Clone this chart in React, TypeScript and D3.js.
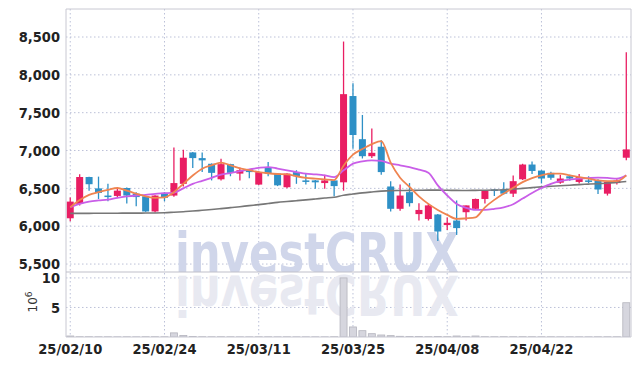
import React from 'react';
import * as d3 from 'd3';

const W = 639;
const H = 366;

const opens = [6105, 6295, 6650, 6500, 6405, 6400, 6505, 6430, 6395, 6195, 6440, 6405, 6560, 6975, 6900, 6825, 6620, 6820, 6695, 6750, 6550, 6780, 6695, 6515, 6715, 6605, 6605, 6570, 6605, 6580, 7720, 7150, 6925, 7050, 6525, 6230, 6450, 6160, 6095, 6155, 6015, 6075, 6185, 6230, 6360, 6485, 6485, 6430, 6620, 6815, 6735, 6705, 6575, 6660, 6585, 6605, 6605, 6430, 6570, 6905];
const highs = [6380, 6685, 6655, 6655, 6560, 6500, 6510, 6450, 6400, 6410, 6450, 7040, 7010, 6980, 6975, 6830, 6890, 6825, 6775, 6755, 6725, 6850, 6700, 6700, 6740, 6700, 6610, 6680, 6610, 8440, 7890, 7470, 7290, 7135, 6595, 6550, 6570, 6305, 6300, 6160, 6115, 6340, 6275, 6365, 6475, 6490, 6580, 6670, 6825, 6855, 6740, 6720, 6680, 6680, 6690, 6660, 6620, 6590, 6620, 8300];
const lows = [6065, 6275, 6470, 6360, 6330, 6385, 6300, 6265, 6190, 6180, 6330, 6390, 6525, 6770, 6715, 6605, 6605, 6660, 6605, 6635, 6545, 6660, 6530, 6500, 6560, 6550, 6495, 6495, 6395, 6470, 7025, 6895, 6900, 6680, 6195, 6205, 6260, 6075, 6075, 5805, 5950, 5885, 6075, 6220, 6300, 6400, 6420, 6385, 6610, 6690, 6565, 6615, 6560, 6600, 6565, 6570, 6425, 6405, 6550, 6870];
const closes = [6325, 6650, 6555, 6440, 6385, 6470, 6405, 6385, 6195, 6405, 6375, 6570, 6905, 6900, 6870, 6705, 6820, 6705, 6740, 6715, 6715, 6695, 6540, 6695, 6660, 6590, 6580, 6605, 6530, 7745, 7205, 6925, 6970, 6715, 6230, 6405, 6305, 6215, 6275, 5930, 6045, 5975, 6275, 6360, 6470, 6465, 6430, 6595, 6815, 6730, 6630, 6640, 6630, 6630, 6650, 6595, 6485, 6585, 6605, 7015];
const volumes = [0.17, 0.05, 0.05, 0.04, 0.04, 0.03, 0.04, 0.03, 0.05, 0.05, 0.04, 0.7, 0.25, 0.08, 0.05, 0.04, 0.05, 0.04, 0.03, 0.03, 0.04, 0.04, 0.03, 0.04, 0.03, 0.03, 0.03, 0.03, 0.05, 10.0, 1.7, 1.07, 0.56, 0.34, 0.23, 0.12, 0.1, 0.08, 0.06, 0.1, 0.06, 0.17, 0.06, 0.17, 0.06, 0.05, 0.06, 0.05, 0.06, 0.05, 0.04, 0.04, 0.03, 0.03, 0.03, 0.03, 0.04, 0.04, 0.04, 5.8];
const ma5 = [6250, 6345, 6415, 6450, 6480, 6505, 6470, 6430, 6395, 6375, 6380, 6450, 6560, 6670, 6760, 6805, 6840, 6805, 6765, 6740, 6715, 6700, 6690, 6685, 6660, 6640, 6628, 6618, 6610, 6800, 6945, 7020, 7085, 7125, 6840, 6640, 6520, 6395, 6295, 6215, 6150, 6096, 6104, 6117, 6250, 6348, 6432, 6508, 6583, 6636, 6672, 6694, 6694, 6672, 6649, 6628, 6605, 6596, 6596, 6672];
const ma20 = [6250, 6295, 6325, 6340, 6350, 6375, 6393, 6406, 6415, 6428, 6436, 6445, 6500, 6560, 6600, 6640, 6680, 6702, 6729, 6750, 6770, 6782, 6761, 6738, 6716, 6694, 6685, 6672, 6649, 6738, 6827, 6858, 6871, 6862, 6827, 6805, 6782, 6747, 6707, 6539, 6406, 6295, 6242, 6215, 6215, 6229, 6250, 6290, 6365, 6440, 6505, 6560, 6595, 6615, 6628, 6636, 6641, 6638, 6628, 6672];
const ma60 = [6170, 6170, 6170, 6172, 6172, 6172, 6173, 6173, 6174, 6175, 6178, 6185, 6192, 6200, 6210, 6220, 6232, 6245, 6258, 6272, 6285, 6300, 6315, 6326, 6337, 6348, 6360, 6372, 6383, 6410, 6425, 6440, 6452, 6463, 6470, 6472, 6473, 6475, 6477, 6477, 6475, 6473, 6472, 6474, 6476, 6478, 6482, 6490, 6500, 6510, 6520, 6528, 6535, 6542, 6550, 6556, 6562, 6570, 6578, 6590];

const priceTicks = [5500, 6000, 6500, 7000, 7500, 8000, 8500];
const volTicks = [5, 10];
const dateTickIdx = [0, 10, 20, 30, 40, 50];
const dateTickLabels = ['25/02/10', '25/02/24', '25/03/11', '25/03/25', '25/04/08', '25/04/22'];

const UP = '#e91e63';
const DOWN = '#2e90c6';
const FONT = '"Liberation Sans Narrow", "DejaVu Sans Condensed", sans-serif';
const WM_FONT = '"DejaVu Sans", sans-serif';

export default function App() {
  const left = 66, right = 631, top = 9, split = 272, bottom = 337;
  const x = d3.scaleLinear().domain([-0.45, 59.5]).range([left, right]);
  const y = d3.scaleLinear().domain([5395, 8870]).range([split, top]);
  const yv = d3.scaleLinear().domain([0, 11]).range([bottom, split]);
  const idx = d3.range(opens.length);
  const bw = 7;

  const mkLine = (vals: number[]) =>
    d3.line<number>().x((_, i) => x(i)).y((v) => y(v)).curve(d3.curveMonotoneX)(vals) || '';

  const grid = '#bcc1d8';

  return (
    <svg width={W} height={H} style={{ position: 'absolute', left: 0, top: 0, background: '#fff' }}>
      <defs>
        <clipPath id="plot">
          <rect x={left} y={top} width={right - left} height={split - top} />
        </clipPath>
        <clipPath id="vol">
          <rect x={left} y={split} width={right - left} height={bottom - split} />
        </clipPath>
      </defs>
      {/* grid */}
      {priceTicks.map((t) => (
        <line key={'pg' + t} x1={left} x2={right} y1={y(t)} y2={y(t)} stroke={grid} strokeDasharray="1.5,2.5" strokeWidth={1} />
      ))}
      {volTicks.map((t) => (
        <line key={'vg' + t} x1={left} x2={right} y1={yv(t)} y2={yv(t)} stroke={grid} strokeDasharray="1.5,2.5" strokeWidth={1} />
      ))}
      {dateTickIdx.map((i) => (
        <line key={'xg' + i} x1={x(i)} x2={x(i)} y1={top} y2={bottom} stroke={grid} strokeDasharray="1.5,2.5" strokeWidth={1} />
      ))}
      {/* watermark */}
      <g clipPath="url(#plot)">
        <text x={175} y={271.5} fontFamily={WM_FONT} fontWeight="bold" fontSize={55} fill="#d0d6ea" textLength={284} lengthAdjust="spacingAndGlyphs">
          investCRUX
        </text>
      </g>
      <g clipPath="url(#vol)">
        <g transform="translate(0,547) scale(1,-1)">
          <text x={175} y={271.5} fontFamily={WM_FONT} fontWeight="bold" fontSize={55} fill="#e8e9f1" textLength={284} lengthAdjust="spacingAndGlyphs">
            investCRUX
          </text>
        </g>
      </g>
      {/* volume bars */}
      <g clipPath="url(#vol)">
        {idx.map((i) => (
          <rect key={'v' + i} x={x(i) - bw / 2} y={yv(volumes[i])} width={bw} height={bottom - yv(volumes[i])} fill="#d6d6de" stroke="#b4b4bd" strokeWidth={0.8} />
        ))}
      </g>
      {/* candles */}
      <g clipPath="url(#plot)">
        {idx.map((i) => {
          const up = closes[i] >= opens[i];
          const c = up ? UP : DOWN;
          const yt = y(Math.max(opens[i], closes[i]));
          const yb = y(Math.min(opens[i], closes[i]));
          return (
            <g key={'c' + i}>
              <line x1={x(i)} x2={x(i)} y1={y(highs[i])} y2={y(lows[i])} stroke={c} strokeWidth={1.3} />
              <rect x={x(i) - bw / 2} y={yt} width={bw} height={Math.max(1.5, yb - yt)} fill={c} />
            </g>
          );
        })}
        <path d={mkLine(ma60)} fill="none" stroke="#777" strokeWidth={1.6} />
        <path d={mkLine(ma20)} fill="none" stroke="#c95ee8" strokeWidth={1.8} />
        <path d={mkLine(ma5)} fill="none" stroke="#ef8450" strokeWidth={1.8} />
      </g>
      {/* frame */}
      <line x1={left} x2={left} y1={top} y2={bottom} stroke="#c8c8d2" strokeWidth={1} />
      <line x1={right} x2={right} y1={top} y2={bottom} stroke="#c8c8d2" strokeWidth={1} />
      <line x1={left} x2={right} y1={top} y2={top} stroke="#c8c8d2" strokeWidth={1} />
      <line x1={left} x2={right} y1={split} y2={split} stroke="#c0c0ca" strokeWidth={1.2} />
      <line x1={left} x2={right} y1={bottom} y2={bottom} stroke="#c8c8d2" strokeWidth={1} />
      {/* axis labels */}
      {priceTicks.map((t) => (
        <text key={'pl' + t} x={60} y={y(t)} dy="0.36em" textAnchor="end" fontFamily={FONT} fontWeight="bold" fontSize={14.5} fill="#222">
          {d3.format(',')(t)}
        </text>
      ))}
      {volTicks.map((t) => (
        <text key={'vl' + t} x={60} y={yv(t)} dy="0.36em" textAnchor="end" fontFamily={FONT} fontWeight="bold" fontSize={14.5} fill="#222">
          {t}
        </text>
      ))}
      <text transform="translate(37,302) rotate(-90)" textAnchor="middle" fontFamily="DejaVu Sans, sans-serif" fontSize={12} fill="#333">
        10<tspan dy="-5" fontSize={9}>6</tspan>
      </text>
      {dateTickIdx.map((i, k) => (
        <text key={'xl' + i} x={x(i)} y={353.5} textAnchor="middle" fontFamily={FONT} fontWeight="bold" fontSize={14.5} fill="#222">
          {dateTickLabels[k]}
        </text>
      ))}
    </svg>
  );
}
